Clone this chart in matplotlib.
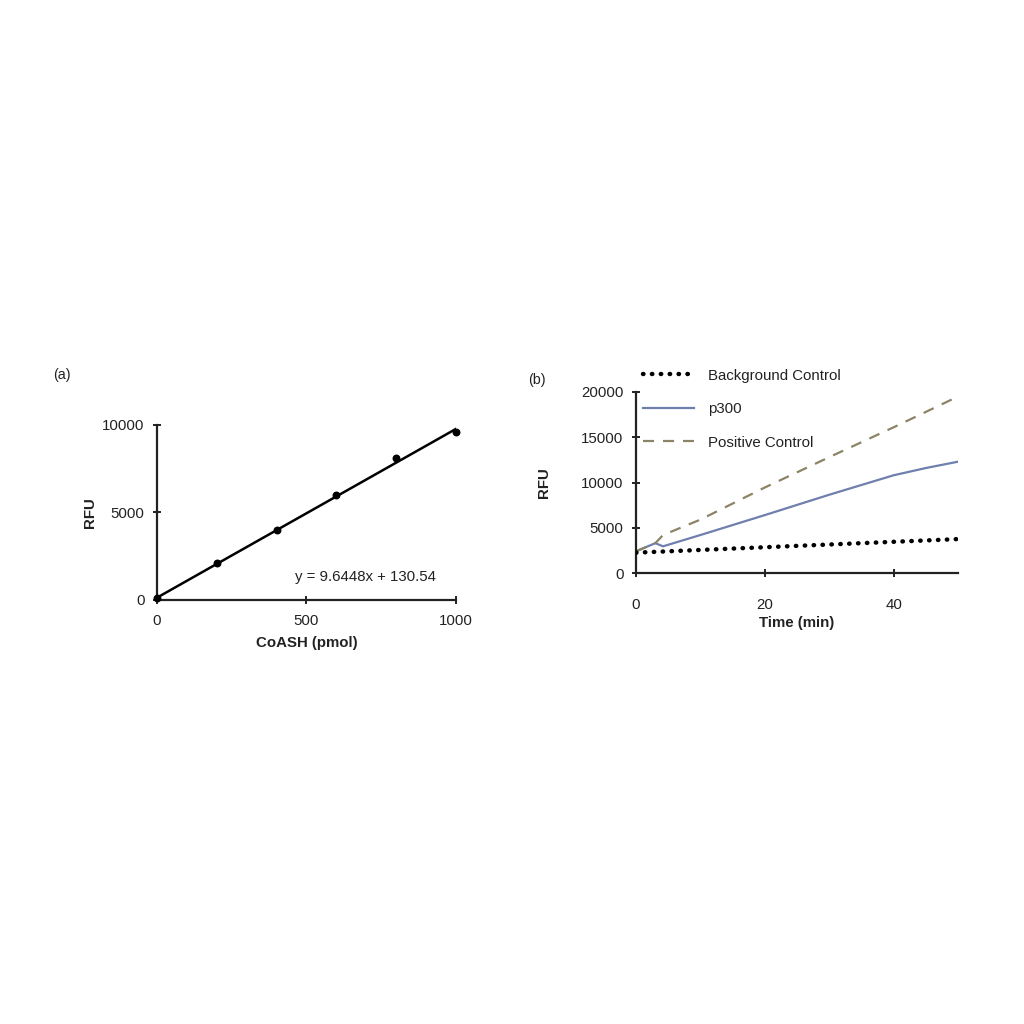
import numpy as np
import matplotlib
matplotlib.use("Agg")
import matplotlib.pyplot as plt

plt.rcParams['font.family'] = ['Liberation Sans', 'DejaVu Sans']

# -------------------------------
# panel (a): CoASH standard curve
# -------------------------------
coash_pmol = [0, 200, 400, 600, 800, 1000]
coash_rfu = [130, 2100, 4000, 6000, 8100, 9600]
fit_slope = 9.6448
fit_icpt = 130.54
fit_text = "y = 9.6448x + 130.54"

# -------------------------------
# panel (b): kinetic read
# -------------------------------
t_bg = [0, 5, 10, 20, 30, 40, 50]
rfu_bg = [2250, 2400, 2550, 2850, 3150, 3450, 3750]
t_p300 = [0, 2.0, 3.0, 4.2, 10, 20, 30, 40, 45, 50]
rfu_p300 = [2400, 3000, 3300, 2950, 4200, 6400, 8650, 10800, 11600, 12300]
t_pos = [0, 3, 4.2, 10, 20, 30, 40, 50]
rfu_pos = [2400, 3300, 4200, 5900, 9450, 12800, 16100, 19500]

TXT = '#222222'
FS = 10.8

fig = plt.figure(figsize=(10.24, 10.24), dpi=100)


def style_ax(ax, pad):
    for s in ['top', 'right']:
        ax.spines[s].set_visible(False)
    for s in ['left', 'bottom']:
        ax.spines[s].set_linewidth(1.6)
        ax.spines[s].set_color('#222222')
    ax.tick_params(direction='inout', length=6, width=1.4, labelsize=FS,
                   colors='#222222', labelcolor=TXT)
    ax.tick_params(axis='y', pad=6)
    ax.tick_params(axis='x', pad=pad)


# --- (a)
ax1 = fig.add_axes([0.1533, 0.4141, 0.292, 0.1709])
style_ax(ax1, 7)
xs = np.array([0, 1000])
ax1.plot(xs, fit_slope * xs + fit_icpt, color='black', lw=1.8, zorder=2)
ax1.scatter(coash_pmol, coash_rfu, s=22, color='black', zorder=3, clip_on=False)
ax1.set_xlim(0, 1000)
ax1.set_ylim(0, 10000)
ax1.set_xticks([0, 500, 1000])
ax1.set_yticks([0, 5000, 10000])
ax1.set_xlabel("CoASH (pmol)", fontsize=FS, fontweight='bold', color=TXT, labelpad=6)
ax1.set_ylabel("RFU", fontsize=FS, fontweight='bold', color=TXT, labelpad=4)
ax1.text(696, 1314, fit_text, fontsize=FS, color=TXT, ha='center', va='center')
fig.text(0.052, 0.634, "(a)", fontsize=FS - 0.5, color=TXT, ha='left', va='center')

# --- (b)
ax2 = fig.add_axes([0.6211, 0.4404, 0.3145, 0.1768])
style_ax(ax2, 15)
ax2.plot(t_bg, rfu_bg, color='black', lw=3.2, linestyle=(0, (0.1, 1.9)),
         dash_capstyle='round', label="Background Control", zorder=3)
ax2.plot(t_p300, rfu_p300, color='#6f7fae', lw=1.6, label="p300", zorder=2)
ax2.plot(t_pos, rfu_pos, color='#8c8466', lw=1.6, linestyle=(0, (5, 4)),
         label="Positive Control", zorder=2)
ax2.set_xlim(0, 50)
ax2.set_ylim(0, 20000)
ax2.set_xticks([0, 20, 40])
ax2.set_yticks([0, 5000, 10000, 15000, 20000])
ax2.set_xlabel("Time (min)", fontsize=FS, fontweight='bold', color=TXT, labelpad=3)
ax2.set_ylabel("RFU", fontsize=FS, fontweight='bold', color=TXT, labelpad=22)
fig.text(0.516, 0.629, "(b)", fontsize=FS - 0.5, color=TXT, ha='left', va='center')

fig.legend(loc='upper left', bbox_to_anchor=(0.628, 0.640), frameon=False,
           fontsize=FS, labelcolor=TXT, handlelength=3.4, handletextpad=0.9,
           labelspacing=1.3, borderpad=0, borderaxespad=0)

fig.savefig("out.png", dpi=100, facecolor='white')
